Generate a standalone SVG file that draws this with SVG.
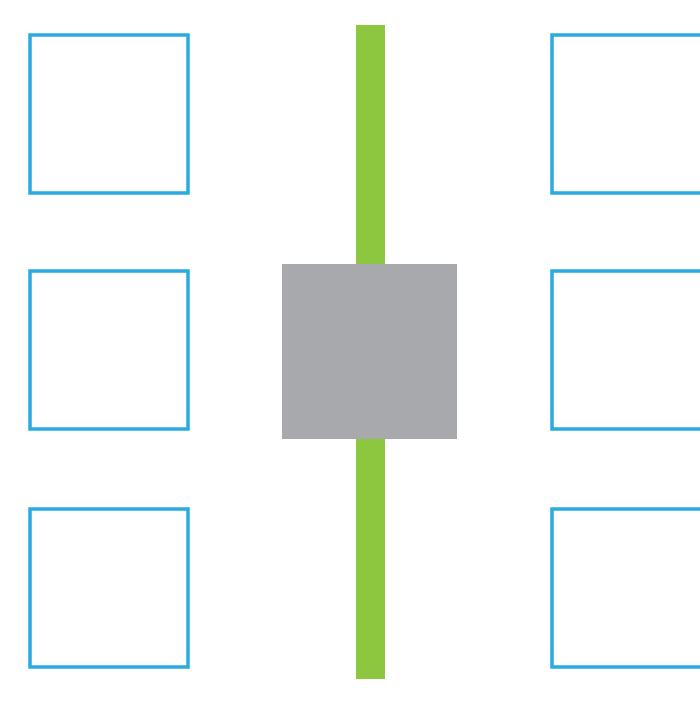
<svg xmlns="http://www.w3.org/2000/svg" width="700" height="714" viewBox="0 0 700 714">
<style>
.box{fill:#fff;stroke:#29ABE2;stroke-width:3.5}
.bar{fill:#8DC63F}
.hub{fill:#A7A9AC}
</style>
<rect width="700" height="714" fill="#fff"/>
<g id="connectors">
<rect class="bar" x="356" y="25" width="29" height="654"/>
</g>
<g id="hub"><rect class="hub" x="282" y="264" width="175" height="175"/></g>
<g id="box-l1"><rect class="box" x="30" y="35" width="158" height="158"/></g>
<g id="box-l2"><rect class="box" x="30" y="271" width="158" height="158"/></g>
<g id="box-l3"><rect class="box" x="30" y="509" width="158" height="158"/></g>
<g id="box-r1"><rect class="box" x="552" y="35" width="158" height="158"/></g>
<g id="box-r2"><rect class="box" x="552" y="271" width="158" height="158"/></g>
<g id="box-r3"><rect class="box" x="552" y="509" width="158" height="158"/></g>
</svg>
